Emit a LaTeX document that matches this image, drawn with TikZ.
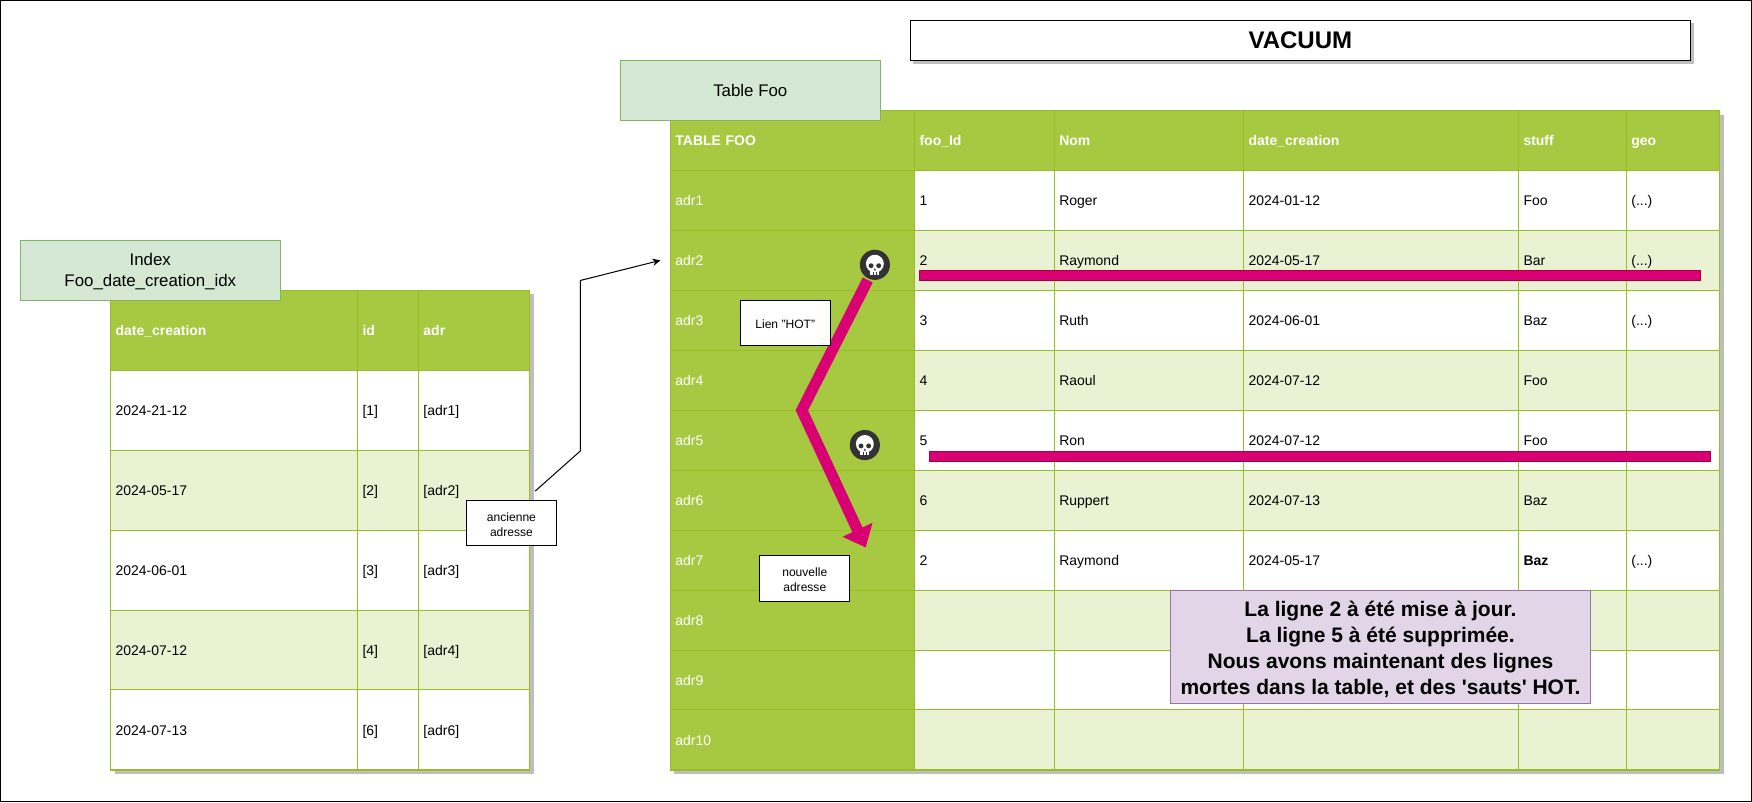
\documentclass[tikz,border=0pt]{standalone}
\usepackage{fontspec}
\setmainfont{Liberation Sans}
\usetikzlibrary{arrows.meta,positioning,shadows}
\definecolor{headgreen}{HTML}{A7C942}
\definecolor{linegreen}{HTML}{98BF21}
\definecolor{altgreen}{HTML}{EAF2D3}
\definecolor{labelfill}{HTML}{D5E8D4}
\definecolor{labelline}{HTML}{82B366}
\definecolor{notefill}{HTML}{E1D5E7}
\definecolor{noteline}{HTML}{9673A6}
\definecolor{hotpink}{HTML}{D80073}
\definecolor{hotline}{HTML}{A50040}
\definecolor{skulldark}{HTML}{333333}
\definecolor{shadowgrey}{HTML}{BEBEBE}

\begin{document}
\begin{tikzpicture}[x=1pt,y=-1pt,line join=miter]
        \tikzstyle{cell}=[draw=linegreen,line width=0.9pt,outer sep=0pt,inner xsep=4.5pt,inner ysep=0pt,
                          align=left,text height=10pt,text depth=0.5pt,font=\fontsize{12.5}{15}\selectfont]
        \tikzstyle{frow}=[cell,minimum height=53.64pt]
        \tikzstyle{xrow}=[cell,minimum height=71.5pt]
        \tikzstyle{head}=[fill=headgreen,text=white,font=\fontsize{12.5}{15}\selectfont\bfseries]
        \tikzstyle{adr}=[fill=headgreen,text=white]
        \tikzstyle{plain}=[fill=white]
        \tikzstyle{alt}=[fill=altgreen]
        \tikzstyle{colA}=[text width=209.5pt]
        \tikzstyle{colB}=[text width=116pt]
        \tikzstyle{colC}=[text width=160.5pt]
        \tikzstyle{colD}=[text width=237pt]
        \tikzstyle{colE}=[text width=87.5pt]
        \tikzstyle{colF}=[text width=74.5pt]
        \tikzstyle{colX}=[text width=212pt]
        \tikzstyle{colY}=[text width=45.5pt]
        \tikzstyle{colZ}=[text width=90.5pt]
        \tikzstyle{frame}=[draw=black,line width=0.9pt,fill=white,outer sep=0pt,inner sep=0pt,anchor=north west]
        \tikzstyle{tablebg}=[draw=linegreen,fill=white,outer sep=0pt,inner sep=0pt,anchor=north west,
                             drop shadow={opacity=1,fill=shadowgrey,shadow xshift=3.5pt,shadow yshift=-3.5pt}]
        \tikzstyle{label}=[draw=labelline,fill=labelfill,line width=0.9pt,outer sep=0pt,inner sep=0pt,anchor=north west,
                           minimum width=233pt,minimum height=53.5pt,align=center,font=\fontsize{15.1}{19}\selectfont]
        \tikzstyle{tag}=[draw=black,fill=white,line width=0.9pt,outer sep=0pt,inner sep=0pt,anchor=north west,
                         minimum width=80.5pt,minimum height=40.5pt,align=center,font=\fontsize{10.8}{13.5}\selectfont]
        \tikzstyle{strike}=[draw=hotline,fill=hotpink,line width=0.5pt,outer sep=0pt,inner sep=0pt,anchor=north west,
                            minimum width=699pt,minimum height=9pt]
        \tikzstyle{skullbg}=[circle,fill=skulldark,inner sep=0pt,minimum size=27pt]
        \tikzset{deadhead/.pic={
                \fill[white] (0,-1) circle (8pt);
                \fill[white] (-4,3) rectangle (4,9);
                \fill[skulldark] (-3.4,0.8) circle (2.2pt) (3.4,0.8) circle (2.2pt);
                \fill[skulldark] (0,3) -- (-1,5) -- (1,5) -- cycle;
                \draw[skulldark,line width=0.6pt] (-1.4,6.5) -- (-1.4,9) (1.4,6.5) -- (1.4,9);
        }}

        \node[frame,minimum width=1567pt,minimum height=716.5pt] (Page) at (0.5,0.5) { };
        \node[frame,minimum width=698.5pt,minimum height=36pt,font=\fontsize{21.5}{26}\selectfont\bfseries,
              drop shadow={opacity=1,fill=shadowgrey,shadow xshift=3pt,shadow yshift=-3pt}] (Title) at (814.5,18) {VACUUM};

        % table
        \node[tablebg,minimum width=939pt,minimum height=590pt] (FooBg) at (600,99) { };
        \node[frow,head,colA,anchor=north west] (A00) at (600,99) {TABLE FOO};
        \node[frow,head,colB] (B00) [right=0pt of A00] {foo\_Id};
        \node[frow,head,colC] (C00) [right=0pt of B00] {Nom};
        \node[frow,head,colD] (D00) [right=0pt of C00] {date\_creation};
        \node[frow,head,colE] (E00) [right=0pt of D00] {stuff};
        \node[frow,head,colF] (F00) [right=0pt of E00] {geo};
        \node[frow,adr,colA]   (A01) [below=0pt of A00] {adr1};
        \node[frow,plain,colB] (B01) [right=0pt of A01] {1};
        \node[frow,plain,colC] (C01) [right=0pt of B01] {Roger};
        \node[frow,plain,colD] (D01) [right=0pt of C01] {2024-01-12};
        \node[frow,plain,colE] (E01) [right=0pt of D01] {Foo};
        \node[frow,plain,colF] (F01) [right=0pt of E01] {(...)};
        \node[frow,adr,colA]   (A02) [below=0pt of A01] {adr2};
        \node[frow,alt,colB]   (B02) [right=0pt of A02] {2};
        \node[frow,alt,colC]   (C02) [right=0pt of B02] {Raymond};
        \node[frow,alt,colD]   (D02) [right=0pt of C02] {2024-05-17};
        \node[frow,alt,colE]   (E02) [right=0pt of D02] {Bar};
        \node[frow,alt,colF]   (F02) [right=0pt of E02] {(...)};
        \node[frow,adr,colA]   (A03) [below=0pt of A02] {adr3};
        \node[frow,plain,colB] (B03) [right=0pt of A03] {3};
        \node[frow,plain,colC] (C03) [right=0pt of B03] {Ruth};
        \node[frow,plain,colD] (D03) [right=0pt of C03] {2024-06-01};
        \node[frow,plain,colE] (E03) [right=0pt of D03] {Baz};
        \node[frow,plain,colF] (F03) [right=0pt of E03] {(...)};
        \node[frow,adr,colA]   (A04) [below=0pt of A03] {adr4};
        \node[frow,alt,colB]   (B04) [right=0pt of A04] {4};
        \node[frow,alt,colC]   (C04) [right=0pt of B04] {Raoul};
        \node[frow,alt,colD]   (D04) [right=0pt of C04] {2024-07-12};
        \node[frow,alt,colE]   (E04) [right=0pt of D04] {Foo};
        \node[frow,alt,colF]   (F04) [right=0pt of E04] { };
        \node[frow,adr,colA]   (A05) [below=0pt of A04] {adr5};
        \node[frow,plain,colB] (B05) [right=0pt of A05] {5};
        \node[frow,plain,colC] (C05) [right=0pt of B05] {Ron};
        \node[frow,plain,colD] (D05) [right=0pt of C05] {2024-07-12};
        \node[frow,plain,colE] (E05) [right=0pt of D05] {Foo};
        \node[frow,plain,colF] (F05) [right=0pt of E05] { };
        \node[frow,adr,colA]   (A06) [below=0pt of A05] {adr6};
        \node[frow,alt,colB]   (B06) [right=0pt of A06] {6};
        \node[frow,alt,colC]   (C06) [right=0pt of B06] {Ruppert};
        \node[frow,alt,colD]   (D06) [right=0pt of C06] {2024-07-13};
        \node[frow,alt,colE]   (E06) [right=0pt of D06] {Baz};
        \node[frow,alt,colF]   (F06) [right=0pt of E06] { };
        \node[frow,adr,colA]   (A07) [below=0pt of A06] {adr7};
        \node[frow,plain,colB] (B07) [right=0pt of A07] {2};
        \node[frow,plain,colC] (C07) [right=0pt of B07] {Raymond};
        \node[frow,plain,colD] (D07) [right=0pt of C07] {2024-05-17};
        \node[frow,plain,colE] (E07) [right=0pt of D07] {\textbf{Baz}};
        \node[frow,plain,colF] (F07) [right=0pt of E07] {(...)};
        \node[frow,adr,colA]   (A08) [below=0pt of A07] {adr8};
        \node[frow,alt,colB]   (B08) [right=0pt of A08] { };
        \node[frow,alt,colC]   (C08) [right=0pt of B08] { };
        \node[frow,alt,colD]   (D08) [right=0pt of C08] { };
        \node[frow,alt,colE]   (E08) [right=0pt of D08] { };
        \node[frow,alt,colF]   (F08) [right=0pt of E08] { };
        \node[frow,adr,colA]   (A09) [below=0pt of A08] {adr9};
        \node[frow,plain,colB] (B09) [right=0pt of A09] { };
        \node[frow,plain,colC] (C09) [right=0pt of B09] { };
        \node[frow,plain,colD] (D09) [right=0pt of C09] { };
        \node[frow,plain,colE] (E09) [right=0pt of D09] { };
        \node[frow,plain,colF] (F09) [right=0pt of E09] { };
        \node[frow,adr,colA]   (A10) [below=0pt of A09] {adr10};
        \node[frow,alt,colB]   (B10) [right=0pt of A10] { };
        \node[frow,alt,colC]   (C10) [right=0pt of B10] { };
        \node[frow,alt,colD]   (D10) [right=0pt of C10] { };
        \node[frow,alt,colE]   (E10) [right=0pt of D10] { };
        \node[frow,alt,colF]   (F10) [right=0pt of E10] { };

        % index
        \node[tablebg,minimum width=375pt,minimum height=429pt] (IdxBg) at (99,260) { };
        \node[xrow,head,colX,anchor=north west] (X00) at (99,260) {date\_creation};
        \node[xrow,head,colY] (Y00) [right=0pt of X00] {id};
        \node[xrow,head,colZ] (Z00) [right=0pt of Y00] {adr};
        \node[xrow,plain,colX] (X01) [below=0pt of X00] {2024-21-12};
        \node[xrow,plain,colY] (Y01) [right=0pt of X01] {[1]};
        \node[xrow,plain,colZ] (Z01) [right=0pt of Y01] {[adr1]};
        \node[xrow,alt,colX]   (X02) [below=0pt of X01] {2024-05-17};
        \node[xrow,alt,colY]   (Y02) [right=0pt of X02] {[2]};
        \node[xrow,alt,colZ]   (Z02) [right=0pt of Y02] {[adr2]};
        \node[xrow,plain,colX] (X03) [below=0pt of X02] {2024-06-01};
        \node[xrow,plain,colY] (Y03) [right=0pt of X03] {[3]};
        \node[xrow,plain,colZ] (Z03) [right=0pt of Y03] {[adr3]};
        \node[xrow,alt,colX]   (X04) [below=0pt of X03] {2024-07-12};
        \node[xrow,alt,colY]   (Y04) [right=0pt of X04] {[4]};
        \node[xrow,alt,colZ]   (Z04) [right=0pt of Y04] {[adr4]};
        \node[xrow,plain,colX] (X05) [below=0pt of X04] {2024-07-13};
        \node[xrow,plain,colY] (Y05) [right=0pt of X05] {[6]};
        \node[xrow,plain,colZ] (Z05) [right=0pt of Y05] {[adr6]};

        \node[label] (LblFoo) at (555,54) {Table Foo};
        \node[label] (LblIdx) at (18,215.5) {\rule{0pt}{13pt}Index\\Foo\_date\_creation\_idx};

        \node[strike] (Dead2) at (823,242) { };
        \node[strike] (Dead5) at (832,403.5) { };
        \node[skullbg] (Skull2) at (783,237) { };
        \node[skullbg] (Skull5) at (774,398.3) { };
        \pic at (Skull2) {deadhead};
        \pic at (Skull5) {deadhead};

        \coordinate (HotFrom) at (776.6,250.6);
        \coordinate (HotBend) at (717.6,367.2);
        \coordinate (HotTo)   at (774.8,490);
        \coordinate (OldFrom) at (479,439.5);
        \coordinate (OldA)    at (519.5,403.5);
        \coordinate (OldB)    at (519.5,251);
        \coordinate (OldTo)   at (591,233);

        \draw[hotpink,line width=10pt,-{Triangle[length=17.5pt,width=28.5pt]}]
                  (HotFrom) -- (HotBend) -- (HotTo);
        \draw[black,line width=0.9pt,-{Stealth[length=7pt,width=6.5pt]}]
                  (OldFrom) -- (OldA) -- (OldB) -- (OldTo);

        \node[tag] (TagHot) at (662.5,269) {\rule{0pt}{10pt}Lien "HOT"};
        \node[tag] (TagOld) at (417.5,448) {\rule{0pt}{10.5pt}ancienne\\adresse};
        \node[tag] (TagNew) at (680,497.5) {\rule{0pt}{10pt}nouvelle\\adresse};
        \node[draw=noteline,fill=notefill,line width=0.9pt,outer sep=0pt,inner sep=0pt,anchor=north west,
              minimum width=376pt,minimum height=101.5pt,align=center,
              font=\fontsize{18.8}{23.2}\selectfont\bfseries] (Note) at (1047.5,528.5)
              {\rule{0pt}{17.5pt}La ligne 2 à été mise à jour.\\La ligne 5 à été supprimée.\\Nous avons maintenant des lignes\\mortes dans la table, et des \textquotesingle sauts\textquotesingle{} HOT.};

        \useasboundingbox (0,0) rectangle (1568,717.8);
\end{tikzpicture}
\end{document}
